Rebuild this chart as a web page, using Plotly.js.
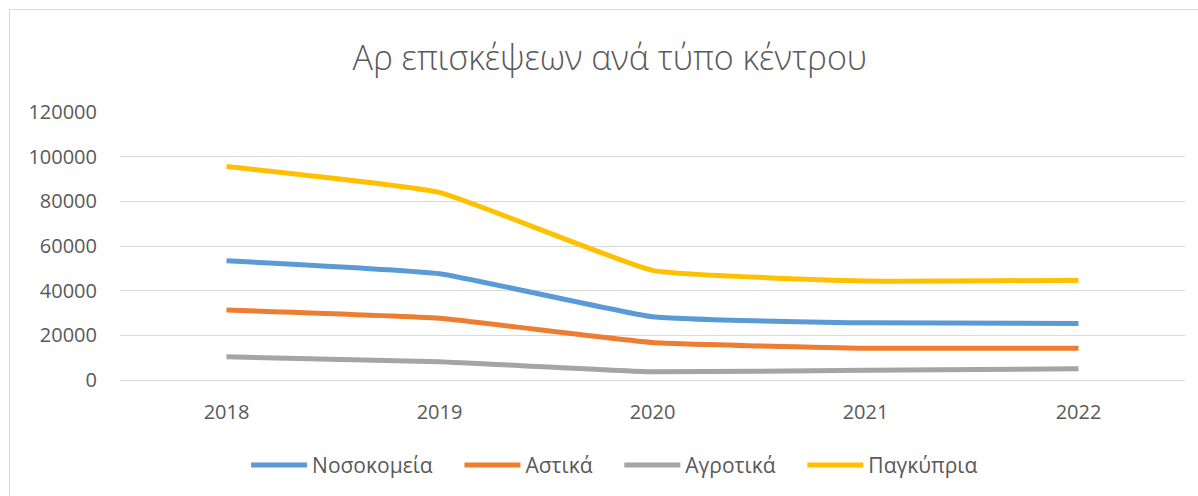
<!DOCTYPE html>
<html>
<head>
<meta charset="utf-8">
<script src="https://cdn.plot.ly/plotly-3.0.1.min.js"></script>
<style>
  html, body { margin: 0; padding: 0; background: #fff; }
  #wrap { position: relative; width: 1198px; height: 496px; overflow: hidden; }
  #frame { position: absolute; left: 9px; top: 9px; width: 1200px; height: 500px; border: 1px solid #d9d9d9; box-sizing: border-box; pointer-events: none; }
  #chart { position: absolute; left: 0; top: 0; width: 1198px; height: 496px; }
</style>
</head>
<body>
<div id="wrap">
  <div id="chart"></div>
  <div id="frame"></div>
</div>
<script>
const years = ['2018', '2019', '2020', '2021', '2022'];
const hospitals = [53400, 47600, 28300, 25600, 25300];   // Νοσοκομεία
const urban = [31300, 27600, 16800, 14200, 14200];       // Αστικά
const rural = [10400, 8200, 3700, 4400, 5000];           // Αγροτικά
const total = [95600, 84000, 49100, 44300, 44700];       // Παγκύπρια
const yTicks = [0, 20000, 40000, 60000, 80000, 100000, 120000];

const seriesNames = ['Νοσοκομεία', 'Αστικά', 'Αγροτικά', 'Παγκύπρια'];
const seriesData = [hospitals, urban, rural, total];
const seriesColors = ['#5B9BD5', '#ED7D31', '#A5A5A5', '#FFC000'];
const legendPad = '\u00a0\u00a0\u00a0\u00a0';

const traces = seriesData.map((vals, i) => ({
  x: years,
  y: vals,
  name: seriesNames[i] + (i < seriesNames.length - 1 ? legendPad : ''),
  type: 'scatter',
  mode: 'lines',
  line: { color: seriesColors[i], width: 5, shape: 'spline', smoothing: 0.35 },
  hoverinfo: 'x+y+name'
}));

const fam = 'Open Sans, Liberation Sans, sans-serif';

const layout = {
  width: 1198,
  height: 496,
  paper_bgcolor: '#ffffff',
  plot_bgcolor: '#ffffff',
  margin: { l: 120, r: 13, t: 112, b: 116 },
  title: {
    text: 'Αρ επισκέψεων ανά τύπο κέντρου',
    font: { family: fam, size: 34, color: '#595959', weight: 300 },
    x: 0.509, xref: 'container', xanchor: 'center',
    y: 0.883, yref: 'container', yanchor: 'middle'
  },
  xaxis: {
    type: 'category',
    range: [-0.5, 4.5],
    showgrid: false,
    zeroline: false,
    showline: false,
    ticks: '',
    ticklabelstandoff: 18,
    tickfont: { family: fam, size: 20, color: '#595959' },
    fixedrange: true
  },
  yaxis: {
    range: [0, 120000],
    tickvals: yTicks,
    ticktext: yTicks.map(String),
    showgrid: true,
    gridcolor: '#d9d9d9',
    gridwidth: 1,
    zeroline: true,
    zerolinecolor: '#d9d9d9',
    zerolinewidth: 1,
    showline: false,
    ticks: '',
    ticklabelstandoff: 22,
    tickfont: { family: fam, size: 20, color: '#595959' },
    fixedrange: true
  },
  legend: {
    orientation: 'h',
    xref: 'container', yref: 'container',
    x: 0.513, xanchor: 'center',
    y: 0.062, yanchor: 'middle',
    font: { family: fam, size: 21, color: '#595959' },
    itemwidth: 56,
    tracegroupgap: 0
  },
  showlegend: true
};

Plotly.newPlot('chart', traces, layout, { displayModeBar: false, staticPlot: true });
</script>
</body>
</html>
